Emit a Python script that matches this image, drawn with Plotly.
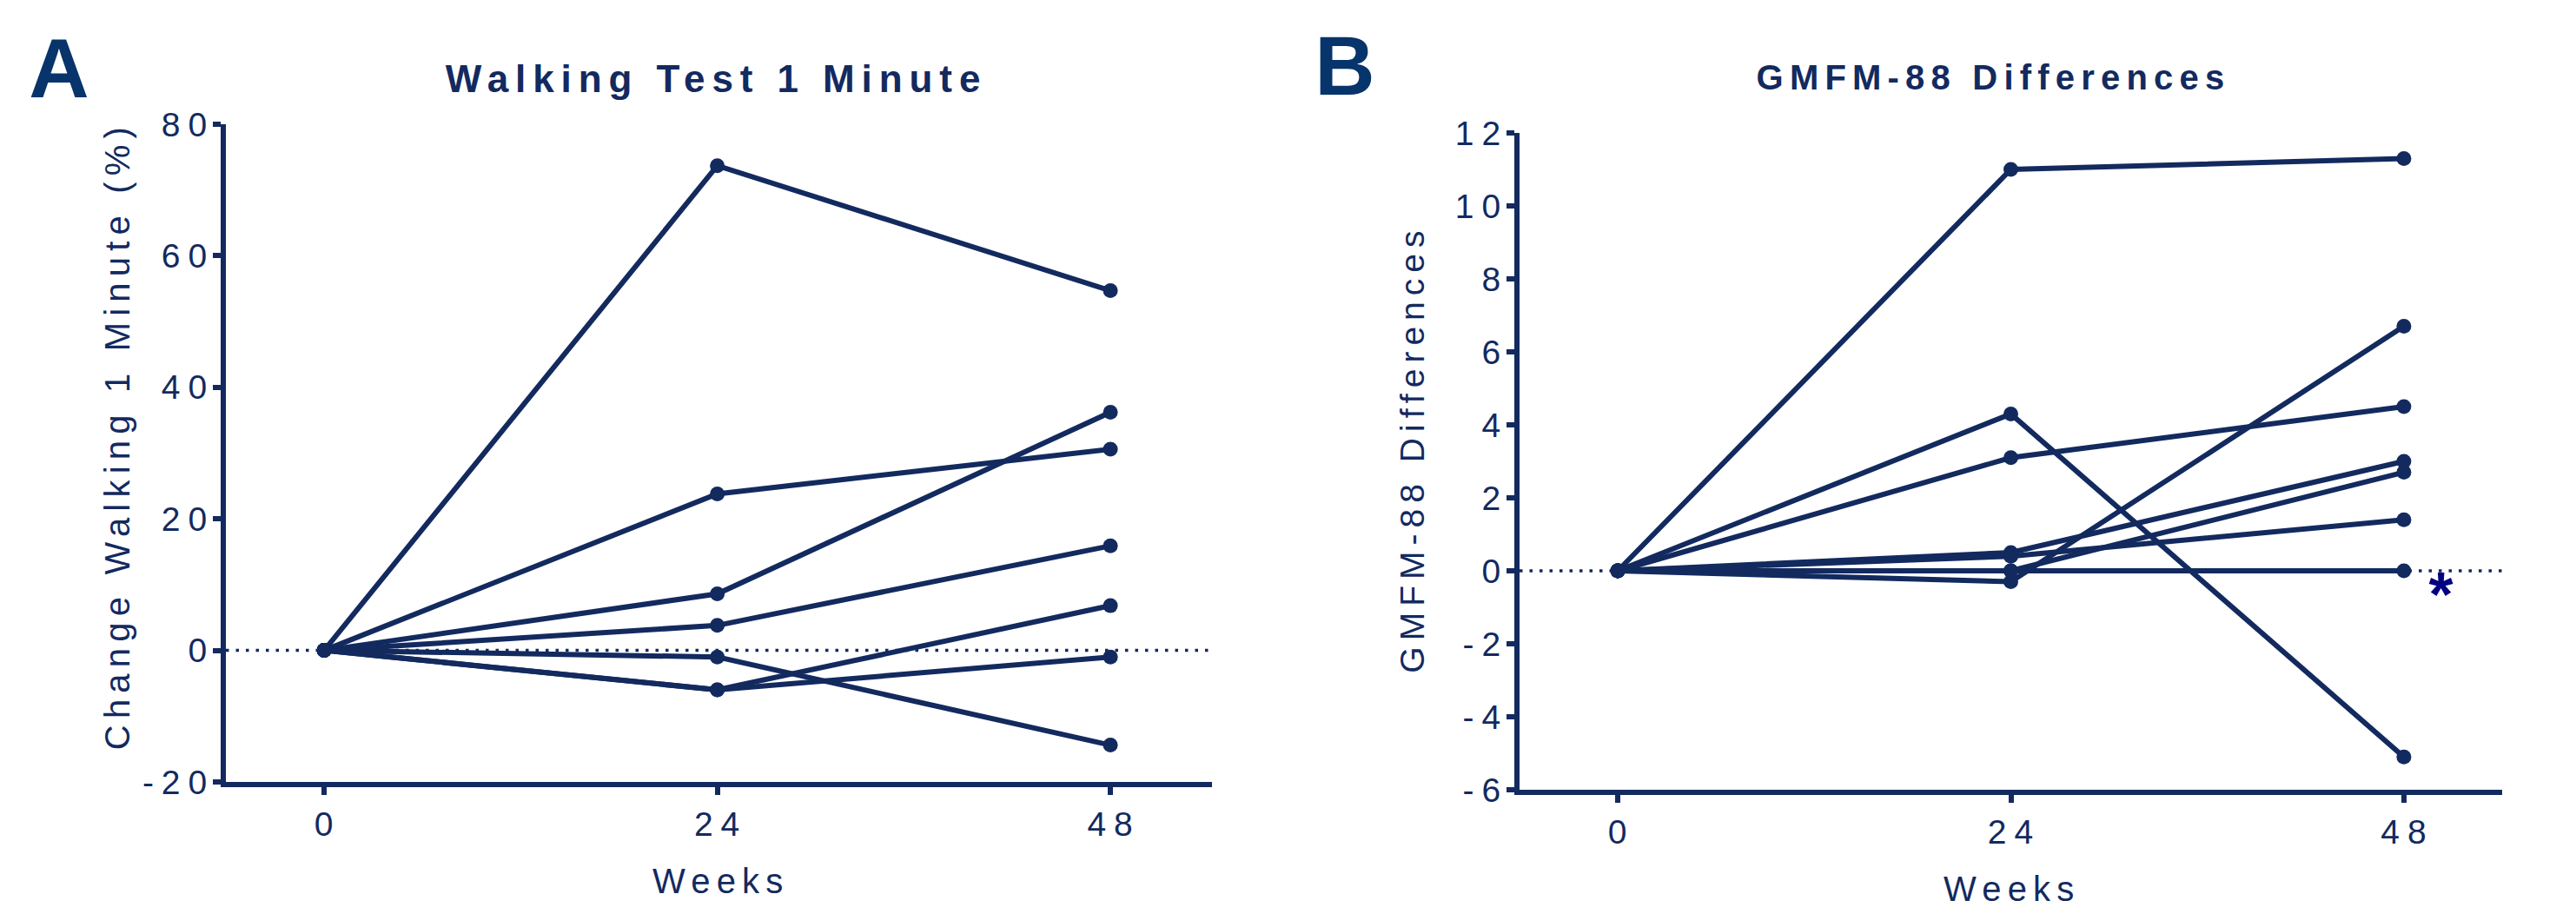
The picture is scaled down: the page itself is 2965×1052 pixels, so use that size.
import plotly.graph_objects as go

W, H = 2965, 1052

# ---------------- data ----------------
weeks = [0, 24, 48]
week_ticks = [0, 24, 48]

# Panel A: change in 1-minute walking test (%)
walk_s1 = [0, 73.7, 54.7]
walk_s2 = [0, 23.8, 30.6]
walk_s3 = [0, 8.6, 36.2]
walk_s4 = [0, 3.8, 15.9]
walk_s5 = [0, -1.0, -14.4]
walk_s6 = [0, -6.0, 6.8]
walk_s7 = [0, -6.0, -1.0]
walk_ticks = [-20, 0, 20, 40, 60, 80]

# Panel B: GMFM-88 differences
gmfm_s1 = [0, 11.0, 11.3]
gmfm_s2 = [0, 4.3, -5.1]
gmfm_s3 = [0, 3.1, 4.5]
gmfm_s4 = [0, 0.5, 3.0]
gmfm_s5 = [0, 0.4, 1.4]
gmfm_s6 = [0, 0.0, 2.7]
gmfm_s7 = [0, 0.0, 0.0]
gmfm_s8 = [0, -0.3, 6.7]
gmfm_ticks = [-6, -4, -2, 0, 2, 4, 6, 8, 10, 12]

title_a = "Walking Test 1 Minute"
title_b = "GMFM-88 Differences"
ytitle_a = "Change Walking 1 Minute (%)"
ytitle_b = "GMFM-88 Differences"
xtitle = "Weeks"

# ---------------- style ----------------
NAVY = "#132a5f"
FONT = "Liberation Sans, Arial, sans-serif"


def px_x(p):
    return p / W


def px_y(p):
    return 1 - p / H


fig = go.Figure()

for s in [walk_s1, walk_s2, walk_s3, walk_s4, walk_s5, walk_s6, walk_s7]:
    fig.add_trace(go.Scatter(x=weeks, y=s, mode="lines+markers", xaxis="x", yaxis="y",
                             line=dict(color=NAVY, width=6),
                             marker=dict(color=NAVY, size=17), showlegend=False))

for s in [gmfm_s1, gmfm_s2, gmfm_s3, gmfm_s4, gmfm_s5, gmfm_s6, gmfm_s7, gmfm_s8]:
    fig.add_trace(go.Scatter(x=weeks, y=s, mode="lines+markers", xaxis="x2", yaxis="y2",
                             line=dict(color=NAVY, width=6),
                             marker=dict(color=NAVY, size=17), showlegend=False))

axis_common = dict(showline=True, linewidth=6, linecolor=NAVY, ticks="outside",
                   ticklen=9, tickwidth=6, tickcolor=NAVY, showgrid=False, zeroline=False,
                   tickfont=dict(family=FONT, size=39, color=NAVY), automargin=False)
xaxis_extra = dict(ticklabelshift=4)
yaxis_extra = dict(ticklabelstandoff=-10)

fig.update_layout(
    xaxis=dict(domain=[px_x(260), px_x(1395)], range=[-6, 54.2], tickvals=week_ticks,
               ticktext=[str(v) for v in week_ticks], anchor="y", **axis_common, **xaxis_extra),
    yaxis=dict(domain=[px_y(900), px_y(143)], range=[-20, 80], tickvals=walk_ticks,
               ticktext=[str(v) for v in walk_ticks], anchor="x", **axis_common, **yaxis_extra),
    xaxis2=dict(domain=[px_x(1749), px_x(2880)], range=[-6, 54.0], tickvals=week_ticks,
                ticktext=[str(v) for v in week_ticks], anchor="y2", **axis_common, **xaxis_extra),
    yaxis2=dict(domain=[px_y(909), px_y(153)], range=[-6, 12], tickvals=gmfm_ticks,
                ticktext=[str(v) for v in gmfm_ticks], anchor="x2", **axis_common, **yaxis_extra),
)

# dotted zero reference lines
for xr, yr in [("x domain", "y"), ("x2 domain", "y2")]:
    fig.add_shape(type="line", xref=xr, yref=yr, x0=0, x1=1, y0=0, y1=0,
                  line=dict(color=NAVY, width=3.5, dash="3.5px,8px"), layer="below")


def ann(text, x, y, size, bold=False, color=NAVY, angle=0):
    fig.add_annotation(text=text, x=px_x(x), y=px_y(y), xref="paper", yref="paper",
                       xanchor="center", yanchor="middle", showarrow=False, textangle=angle,
                       font=dict(family=FONT, size=size, color=color,
                                 weight="bold" if bold else "normal"))


ann("A", 76, 78, 96, bold=True, color="#07346a")
ann("B", 1556, 76, 96, bold=True, color="#07346a")
ann(title_a, 824, 90, 44, bold=True)
ann(title_b, 2294, 89, 40, bold=True)
ann(ytitle_a, 135, 501, 40, angle=-90)
ann(ytitle_b, 1625, 517, 39, angle=-90)
ann(xtitle, 830, 1014, 40)
ann(xtitle, 2316, 1023, 40)
ann("*", 2816, 684, 72, bold=True, color="#000080")

fig.update_layout(width=W, height=H, margin=dict(l=0, r=0, t=0, b=0),
                  template="none", paper_bgcolor="white", plot_bgcolor="white",
                  showlegend=False)

post = """
(function(){
  document.documentElement.style.margin = '0';
  document.body.style.margin = '0';
  document.body.style.padding = '0';
  function sp(){
    document.querySelectorAll('.xaxislayer-above text, .yaxislayer-above text').forEach(function(t){
      t.style.letterSpacing = '0.23em';
    });
    document.querySelectorAll('.annotation-text').forEach(function(t){
      t.style.letterSpacing = '0.18em';
    });
  }
  sp();
  var gd = document.getElementById('{plot_id}');
  if (gd && gd.on) { gd.on('plotly_afterplot', sp); }
})();
"""

fig.write_html("out.html", post_script=post, config={"displayModeBar": False})
